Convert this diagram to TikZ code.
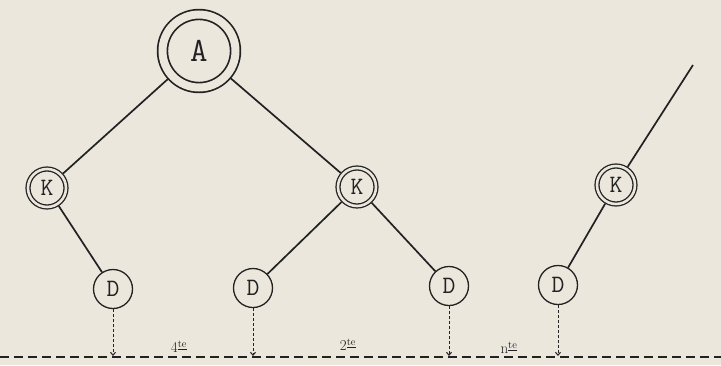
\documentclass[tikz,border=0pt]{standalone}
\usetikzlibrary{arrows.meta}
\definecolor{paper}{HTML}{EBE7DD}
\definecolor{ink}{HTML}{222222}
\begin{document}
\begin{tikzpicture}[x=1pt,y=-1pt,
  rootnode/.style={circle, draw=ink, line width=1.7pt, double=paper, double distance=8pt,
    inner sep=0pt, minimum size=73pt, outer sep=5.7pt, font=\ttfamily\fontsize{34}{34}\selectfont, text=ink},
  knode/.style={circle, draw=ink, line width=1.3pt, double=paper, double distance=2.6pt,
    inner sep=0pt, minimum size=38pt, outer sep=2.6pt, font=\ttfamily\fontsize{25}{25}\selectfont, text=ink},
  dnode/.style={circle, draw=ink, line width=1.3pt, inner sep=0pt, minimum size=39pt,
    font=\ttfamily\fontsize{25}{25}\selectfont, text=ink},
  edge/.style={draw=ink, line width=1.7pt},
  drop/.style={draw=ink, line width=1pt, dash pattern=on 3pt off 2pt, -{Straight Barb[length=3pt,width=5pt]}},
  base/.style={draw=ink, line width=1.8pt, dash pattern=on 9pt off 5pt},
  lab/.style={font=\fontsize{15}{15}\selectfont, text=ink, inner sep=1pt}
]
\fill[paper] (0,0) rectangle (721,365);
\useasboundingbox (0,0) rectangle (721,365);

\node[rootnode] (A) at (199,51) {A};
\node[knode] (K1) at (47,188) {K};
\node[knode] (K2) at (357,187) {K};
\node[knode] (K3) at (616,185) {K};
\node[dnode] (D1) at (113,289) {D};
\node[dnode] (D2) at (253,288) {D};
\node[dnode] (D3) at (449,286) {D};
\node[dnode] (D4) at (558,285) {D};
\coordinate (T) at (693,65);

\draw[edge] (A) -- (K1);
\draw[edge] (A) -- (K2);
\draw[edge] (K1) -- (D1);
\draw[edge] (K2) -- (D2);
\draw[edge] (K2) -- (D3);
\draw[edge] (K3) -- (D4);
\draw[edge] (K3) -- (T);

\coordinate (L) at (0,357);
\coordinate (R) at (721,357);
\draw[base] (L) -- (R);

\coordinate (E1) at (113,356);
\coordinate (E2) at (253,356);
\coordinate (E3) at (449,356);
\coordinate (E4) at (558,356);
\draw[drop] (D1) -- (E1);
\draw[drop] (D2) -- (E2);
\draw[drop] (D3) -- (E3);
\draw[drop] (D4) -- (E4);

\node[lab] (N4) at (179,347) {4\textsuperscript{\underline{te}}};
\node[lab] (N2) at (348,345) {2\textsuperscript{\underline{te}}};
\node[lab] (Nn) at (509,348) {n\textsuperscript{\underline{te}}};
\end{tikzpicture}
\end{document}
